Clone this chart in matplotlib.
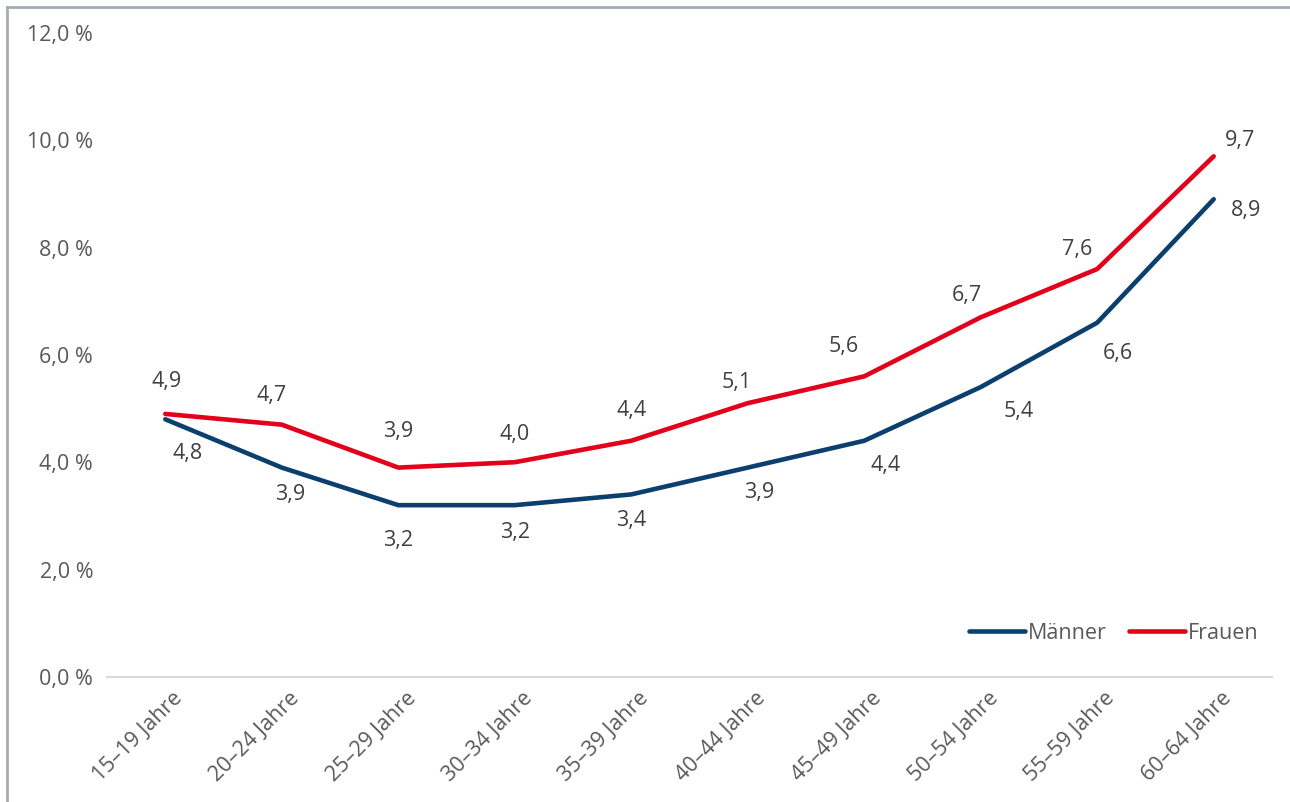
import matplotlib.pyplot as plt
import matplotlib.transforms as mtransforms
from matplotlib.lines import Line2D

plt.rcParams['font.family'] = ['Open Sans', 'DejaVu Sans']

# Altersgruppen und Quoten in Prozent
gruppen = ['15–19 Jahre', '20–24 Jahre', '25–29 Jahre', '30–34 Jahre', '35–39 Jahre',
           '40–44 Jahre', '45–49 Jahre', '50–54 Jahre', '55–59 Jahre', '60–64 Jahre']
maenner = [4.8, 3.9, 3.2, 3.2, 3.4, 3.9, 4.4, 5.4, 6.6, 8.9]
frauen = [4.9, 4.7, 3.9, 4.0, 4.4, 5.1, 5.6, 6.7, 7.6, 9.7]

# Versatz der Wertbeschriftungen in Pixeln (x, y)
off_m = [(22, -34), (8, -27), (0, -35), (0, -27), (0, -26), (11, -25), (21, -25), (38, -24), (21, -31), (32, -11)]
off_f = [(1, 32), (-10, 29), (0, 36), (0, 28), (0, 30), (-11, 21), (-21, 30), (-14, 22), (-20, 20), (26, 16)]

blau = '#0b3f6e'
rot = '#e2001a'
grau = '#595959'
fs = 15.5

fig = plt.figure(figsize=(12.9, 8.02), dpi=100)
ax = fig.add_axes([0.083, 0.156, 0.903, 0.803])

x = range(len(gruppen))
ax.plot(x, maenner, color=blau, lw=3.3, solid_joinstyle='round', solid_capstyle='round', zorder=3)
ax.plot(x, frauen, color=rot, lw=3.3, solid_joinstyle='round', solid_capstyle='round', zorder=3)

for i in x:
    ax.annotate(f'{maenner[i]:.1f}'.replace('.', ','), (i, maenner[i]), xytext=off_m[i],
                textcoords='offset pixels', ha='center', va='center', fontsize=fs, color='#404040')
    ax.annotate(f'{frauen[i]:.1f}'.replace('.', ','), (i, frauen[i]), xytext=off_f[i],
                textcoords='offset pixels', ha='center', va='center', fontsize=fs, color='#404040')

ax.set_xlim(-0.5, len(gruppen) - 0.5)
ax.set_ylim(0, 12)
ax.set_yticks(range(0, 13, 2))
ax.set_yticklabels([f'{v:.1f} %'.replace('.', ',') for v in range(0, 13, 2)])
ax.set_xticks(list(x))
ax.set_xticklabels(gruppen, rotation=45, ha='right', rotation_mode='anchor')
ax.tick_params(length=0, labelsize=fs, labelcolor=grau)
ax.tick_params(axis='y', pad=10)
ax.tick_params(axis='x', pad=8)
shift = mtransforms.ScaledTranslation(7 / 100, 0, fig.dpi_scale_trans)
for lab in ax.get_xticklabels():
    lab.set_transform(lab.get_transform() + shift)
for s in ['top', 'right', 'left']:
    ax.spines[s].set_visible(False)
ax.spines['bottom'].set_color('#d9d9d9')
ax.spines['bottom'].set_linewidth(1.5)

handles = [Line2D([], [], color=blau, lw=3.3, solid_capstyle='round'),
           Line2D([], [], color=rot, lw=3.3, solid_capstyle='round')]
ax.legend(handles, ['Männer', 'Frauen'], loc='lower right', bbox_to_anchor=(1.005, 0.021),
          ncol=2, frameon=False, fontsize=fs, labelcolor=grau, handlelength=2.6,
          handletextpad=0.15, columnspacing=1.0)

# Rahmen links und oben
fig.add_artist(Line2D([7 / 1290, 7 / 1290], [0, 1 - 7 / 802], color='#a3acb5', lw=2))
fig.add_artist(Line2D([7 / 1290, 1], [1 - 7 / 802, 1 - 7 / 802], color='#a3acb5', lw=2))

fig.savefig('out.png', dpi=100)
